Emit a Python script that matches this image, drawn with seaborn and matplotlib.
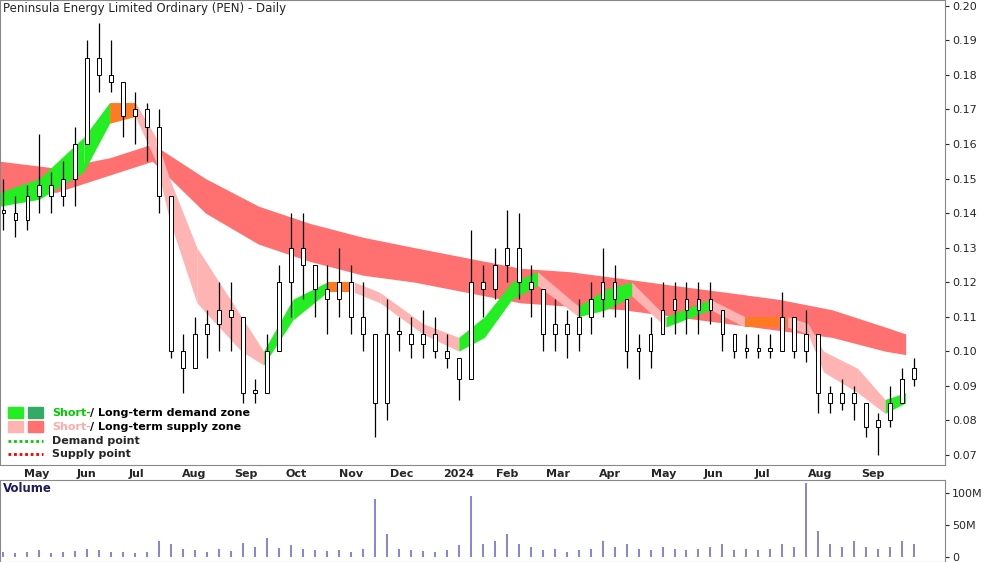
import matplotlib
matplotlib.use("Agg")
import matplotlib.pyplot as plt
import matplotlib.dates as mdates
import numpy as np
import pandas as pd
import seaborn as sns

# weekly bars, week starting 2023-04-17
highs = [0.150, 0.145, 0.148, 0.163, 0.152, 0.155, 0.165, 0.190, 0.195, 0.190,
         0.178, 0.175, 0.172, 0.170, 0.141, 0.105, 0.110, 0.112, 0.120, 0.120,
         0.105, 0.092, 0.105, 0.125, 0.140, 0.140, 0.125, 0.125, 0.130, 0.125,
         0.120, 0.105, 0.115, 0.110, 0.110, 0.112, 0.110, 0.105, 0.098, 0.135,
         0.125, 0.130, 0.141, 0.140, 0.125, 0.115, 0.115, 0.112, 0.115, 0.120,
         0.130, 0.125, 0.115, 0.105, 0.110, 0.120, 0.120, 0.120, 0.120, 0.120,
         0.112, 0.105, 0.105, 0.105, 0.105, 0.117, 0.110, 0.112, 0.100, 0.090,
         0.092, 0.090, 0.085, 0.082, 0.090, 0.095, 0.098]
lows = [0.135, 0.133, 0.135, 0.140, 0.140, 0.142, 0.142, 0.165, 0.175, 0.175,
        0.162, 0.160, 0.155, 0.140, 0.098, 0.088, 0.098, 0.098, 0.100, 0.100,
        0.085, 0.085, 0.088, 0.100, 0.110, 0.115, 0.110, 0.105, 0.110, 0.105,
        0.100, 0.075, 0.080, 0.100, 0.098, 0.098, 0.098, 0.095, 0.086, 0.100,
        0.110, 0.115, 0.120, 0.115, 0.110, 0.100, 0.100, 0.098, 0.100, 0.105,
        0.110, 0.110, 0.095, 0.092, 0.095, 0.105, 0.105, 0.105, 0.105, 0.108,
        0.100, 0.098, 0.098, 0.098, 0.098, 0.100, 0.098, 0.097, 0.082, 0.082,
        0.083, 0.080, 0.075, 0.070, 0.078, 0.085, 0.090]
closes = [0.140, 0.138, 0.145, 0.148, 0.145, 0.150, 0.160, 0.185, 0.180, 0.178,
          0.168, 0.170, 0.165, 0.145, 0.100, 0.095, 0.105, 0.108, 0.112, 0.110,
          0.088, 0.088, 0.100, 0.120, 0.130, 0.125, 0.118, 0.115, 0.120, 0.110,
          0.105, 0.085, 0.105, 0.105, 0.102, 0.105, 0.100, 0.098, 0.092, 0.120,
          0.118, 0.125, 0.130, 0.120, 0.118, 0.105, 0.108, 0.105, 0.110, 0.115,
          0.120, 0.115, 0.100, 0.100, 0.105, 0.112, 0.115, 0.112, 0.115, 0.112,
          0.105, 0.100, 0.100, 0.100, 0.100, 0.110, 0.100, 0.105, 0.088, 0.085,
          0.088, 0.085, 0.078, 0.080, 0.085, 0.092, 0.095]
volumes = [8, 6, 7, 10, 6, 7, 9, 12, 10, 8,
           7, 6, 8, 25, 20, 12, 10, 8, 12, 9,
           22, 15, 30, 14, 18, 12, 10, 9, 10, 8,
           12, 90, 35, 12, 10, 9, 8, 10, 18, 95,
           20, 25, 35, 20, 15, 10, 12, 8, 10, 12,
           25, 15, 20, 12, 10, 15, 12, 10, 12, 15,
           20, 10, 12, 10, 12, 20, 15, 115, 40, 20,
           15, 25, 15, 12, 15, 25, 20]

# bands at knot dates
long_dates = ["2023-04-17", "2023-05-20", "2023-06-20", "2023-07-15", "2023-08-15",
              "2023-09-15", "2023-10-15", "2023-11-15", "2023-12-15", "2024-01-15",
              "2024-02-15", "2024-03-15", "2024-04-15", "2024-05-15", "2024-06-15",
              "2024-07-15", "2024-08-15", "2024-09-15", "2024-09-27"]
long_upper = [0.155, 0.153, 0.156, 0.160, 0.150, 0.142, 0.137, 0.133, 0.130, 0.127,
              0.124, 0.123, 0.121, 0.119, 0.117, 0.115, 0.112, 0.107, 0.105]
long_lower = [0.146, 0.146, 0.151, 0.155, 0.140, 0.131, 0.126, 0.122, 0.120, 0.117,
              0.114, 0.113, 0.112, 0.110, 0.108, 0.106, 0.104, 0.100, 0.099]

short_dates = ["2023-04-17", "2023-05-10", "2023-06-05", "2023-06-20", "2023-07-05",
               "2023-07-17", "2023-07-25", "2023-08-10", "2023-09-05", "2023-09-18",
               "2023-10-05", "2023-10-25", "2023-11-10", "2023-11-25", "2023-12-20",
               "2024-01-10", "2024-01-25", "2024-02-10", "2024-02-25", "2024-03-20",
               "2024-04-05", "2024-04-20", "2024-05-10", "2024-06-05", "2024-06-25",
               "2024-07-20", "2024-08-01", "2024-08-10", "2024-08-30", "2024-09-15",
               "2024-09-27"]
short_upper = [0.146, 0.150, 0.162, 0.172, 0.172, 0.162, 0.150, 0.130, 0.110, 0.100,
               0.115, 0.120, 0.120, 0.117, 0.108, 0.104, 0.110, 0.120, 0.123, 0.113,
               0.118, 0.120, 0.110, 0.115, 0.110, 0.110, 0.108, 0.100, 0.095, 0.086,
               0.088]
short_lower = [0.142, 0.144, 0.152, 0.166, 0.168, 0.155, 0.138, 0.114, 0.100, 0.096,
               0.109, 0.117, 0.117, 0.114, 0.105, 0.100, 0.104, 0.115, 0.119, 0.110,
               0.112, 0.116, 0.107, 0.112, 0.107, 0.107, 0.105, 0.094, 0.088, 0.082,
               0.085]

month_ticks = pd.date_range("2023-05-01", "2024-09-01", freq="MS")
month_labels = ["May", "Jun", "Jul", "Aug", "Sep", "Oct", "Nov", "Dec", "2024", "Feb",
                "Mar", "Apr", "May", "Jun", "Jul", "Aug", "Sep"]

sns.set_style("white")
plt.rcParams["font.family"] = ["DejaVu Sans"]

weeks = pd.date_range("2023-04-17", periods=len(highs), freq="W-MON") + pd.Timedelta(days=2)
df = pd.DataFrame({"date": weeks, "high": highs, "low": lows, "close": closes, "volume": volumes})
df["open"] = df["close"].shift(1).fillna(df["close"])

fig = plt.figure(figsize=(10, 5.62), dpi=100)
ax = fig.add_axes([0.0, 0.173, 0.945, 0.827])
axv = fig.add_axes([0.0, 0.0, 0.945, 0.146], sharex=ax)

ld = pd.to_datetime(long_dates)
sd = pd.to_datetime(short_dates)
ax.fill_between(ld, long_lower, long_upper, color="#ff7070", lw=0, zorder=1)

# short-term band coloured by direction
GREEN, PINK, ORANGE = "#22ee22", "#ffb4b4", "#ff7a20"
for i in range(len(sd) - 1):
    mid0 = (short_upper[i] + short_lower[i]) / 2
    mid1 = (short_upper[i + 1] + short_lower[i + 1]) / 2
    slope = mid1 - mid0
    c = GREEN if slope > 0.002 else (PINK if slope < -0.002 else ORANGE)
    ax.fill_between(sd[i:i + 2], short_lower[i:i + 2], short_upper[i:i + 2],
                    color=c, lw=0, zorder=2)

# price bars
bw = 2.2
for _, r in df.iterrows():
    ax.vlines(r["date"], r["low"], r["high"], color="black", lw=0.9, zorder=3)
    lo, hi = sorted([r["open"], r["close"]])
    ax.add_patch(plt.Rectangle((mdates.date2num(r["date"]) - bw / 2, lo),
                               bw, max(hi - lo, 0.0008), facecolor="white",
                               edgecolor="black", lw=0.7, zorder=4))

ax.set_xlim(pd.Timestamp("2023-04-17"), pd.Timestamp("2024-10-20"))
ax.set_ylim(0.0671, 0.2017)
ax.yaxis.tick_right()
ax.set_yticks(np.arange(0.07, 0.201, 0.01))
ax.set_yticklabels([f"{v:.2f}" for v in np.arange(0.07, 0.201, 0.01)], fontsize=8)
ax.set_xticks(month_ticks)
ax.set_xticklabels(month_labels, fontsize=8, fontweight="bold", ha="left")
ax.tick_params(axis="x", length=0, pad=3)
ax.tick_params(axis="y", length=3, direction="out", pad=2, right=True)
for s in ax.spines.values():
    s.set_color("#888888")
ax.text(0.003, 0.995, "Peninsula Energy Limited Ordinary (PEN) - Daily",
        transform=ax.transAxes, va="top", fontsize=8.5)

# legend
leg_items = [("demand zone", GREEN, "#33aa66", "#00cc00"),
             ("supply zone", PINK, "#ff7070", "#ffaaaa")]
yy = 0.112
for name, c1, c2, tc in leg_items:
    ax.add_patch(plt.Rectangle((0.008, yy - 0.012), 0.016, 0.024, color=c1, transform=ax.transAxes))
    ax.add_patch(plt.Rectangle((0.03, yy - 0.012), 0.016, 0.024, color=c2, transform=ax.transAxes))
    ax.text(0.055, yy, "Short-", transform=ax.transAxes, va="center", fontsize=8,
            fontweight="bold", color=tc)
    ax.text(0.095, yy, "/ Long-term " + name, transform=ax.transAxes,
            va="center", fontsize=8, fontweight="bold", color="black")
    yy -= 0.03
for lbl, col in [("Demand point", "#00cc00"), ("Supply point", "#ee0000")]:
    ax.plot([0.008, 0.046], [yy, yy], transform=ax.transAxes, color=col, lw=2, ls=(0, (1, 1)))
    ax.text(0.055, yy, lbl, transform=ax.transAxes, va="center", fontsize=8, fontweight="bold")
    yy -= 0.028

# volume
axv.vlines(df["date"], 0, df["volume"], color="#7070cc", lw=1.2)
axv.set_ylim(-8, 120)
axv.yaxis.tick_right()
axv.set_yticks([0, 50, 100])
axv.set_yticklabels(["0", "50M", "100M"], fontsize=8)
axv.tick_params(axis="x", labelbottom=False, length=0)
axv.tick_params(axis="y", length=3, pad=2)
for s in axv.spines.values():
    s.set_color("#888888")
axv.text(0.003, 0.97, "Volume", transform=axv.transAxes, va="top", fontsize=8.5,
         fontweight="bold", color="#1a1a60")

fig.savefig("out.png", dpi=100)
